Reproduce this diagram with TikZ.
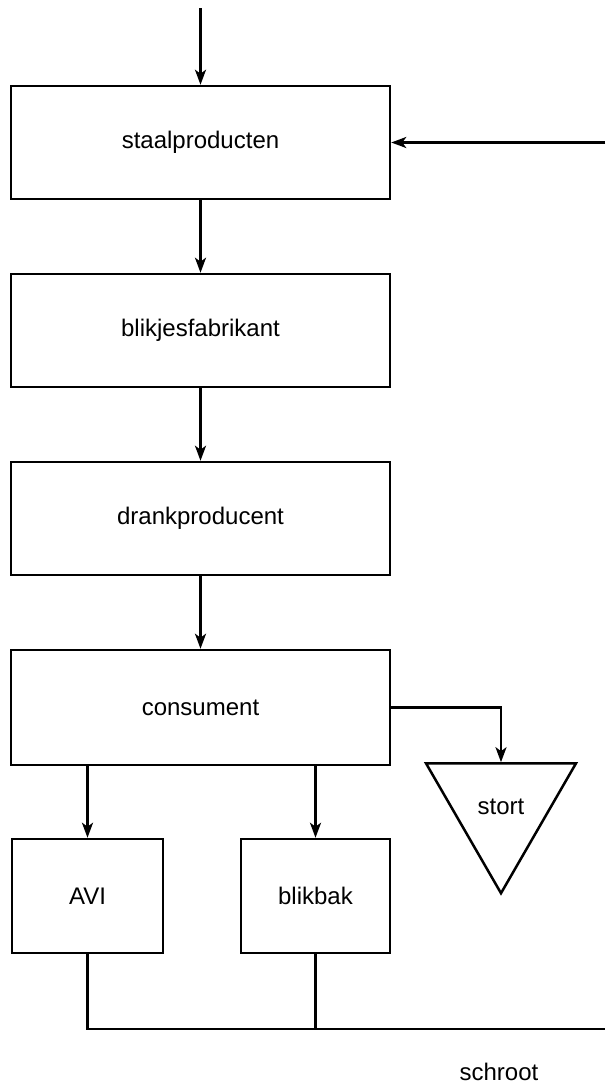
\documentclass[tikz,border=0pt]{standalone}
\usepackage{fontspec}
\setmainfont{Liberation Sans}
\usetikzlibrary{positioning, shapes.geometric, arrows.meta, calc}

\begin{document}
\begin{tikzpicture}[
    x=1pt, y=1pt,
    stage/.style={draw, fill=white, line width=2.5pt, minimum width=379pt, minimum height=113pt, align=center, font=\fontsize{24}{28}\selectfont, shape=rectangle},
    bin/.style={draw, fill=white, line width=2.5pt, minimum width=151pt, minimum height=114pt, align=center, font=\fontsize{24}{28}\selectfont, shape=rectangle},
    dump/.style={draw, line width=2.5pt, regular polygon, regular polygon sides=3, shape border rotate=180, minimum size=173pt, inner sep=0pt, font=\fontsize{24}{28}\selectfont},
    arrow/.style={-{Stealth[length=15pt, width=11pt, inset=4pt]}, line width=2.5pt, draw=black},
    flow/.style={line width=2.5pt, draw=black},
    label/.style={font=\fontsize{24}{28}\selectfont}
]
    \useasboundingbox (0,0) rectangle (605,-1084);

    % Chain
    \node[stage] (staal) at (200.5,-142.5) {staalproducten};
    \node[stage, below=72.5pt of staal] (blik) {blikjesfabrikant};
    \node[stage, below=72.5pt of blik] (drank) {drankproducent};
    \node[stage, below=72.5pt of drank, minimum height=115pt] (consument) {consument};

    % Disposal
    \node[bin] (avi) at (87.5,-896) {AVI};
    \node[bin, minimum width=149pt] (blikbak) at (315.5,-896) {blikbak};
    \node[dump] (stort) at (501,-806.7) {stort};

    % Free ends
    \coordinate (in) at (200.5,-8);
    \coordinate (ret) at (605,-142.5);
    \coordinate (scrap) at (605,-1029);
    \node[label] (schroot) at (499,-1072) {schroot};

    % Connectors
    \draw[arrow] (in) -- (staal);
    \draw[arrow] (ret) -- (staal.east);
    \draw[arrow] (staal) -- (blik);
    \draw[arrow] (blik) -- (drank);
    \draw[arrow] (drank) -- (consument);
    \draw[arrow] (consument.south -| avi) -- (avi);
    \draw[arrow] (consument.south -| blikbak) -- (blikbak);
    \draw[arrow] (consument.east) -| (stort.north);

    % Scrap return
    \draw[flow] (avi.south) |- (scrap);
    \draw[flow] (blikbak.south) -- (blikbak.south |- scrap);

\end{tikzpicture}
\end{document}
